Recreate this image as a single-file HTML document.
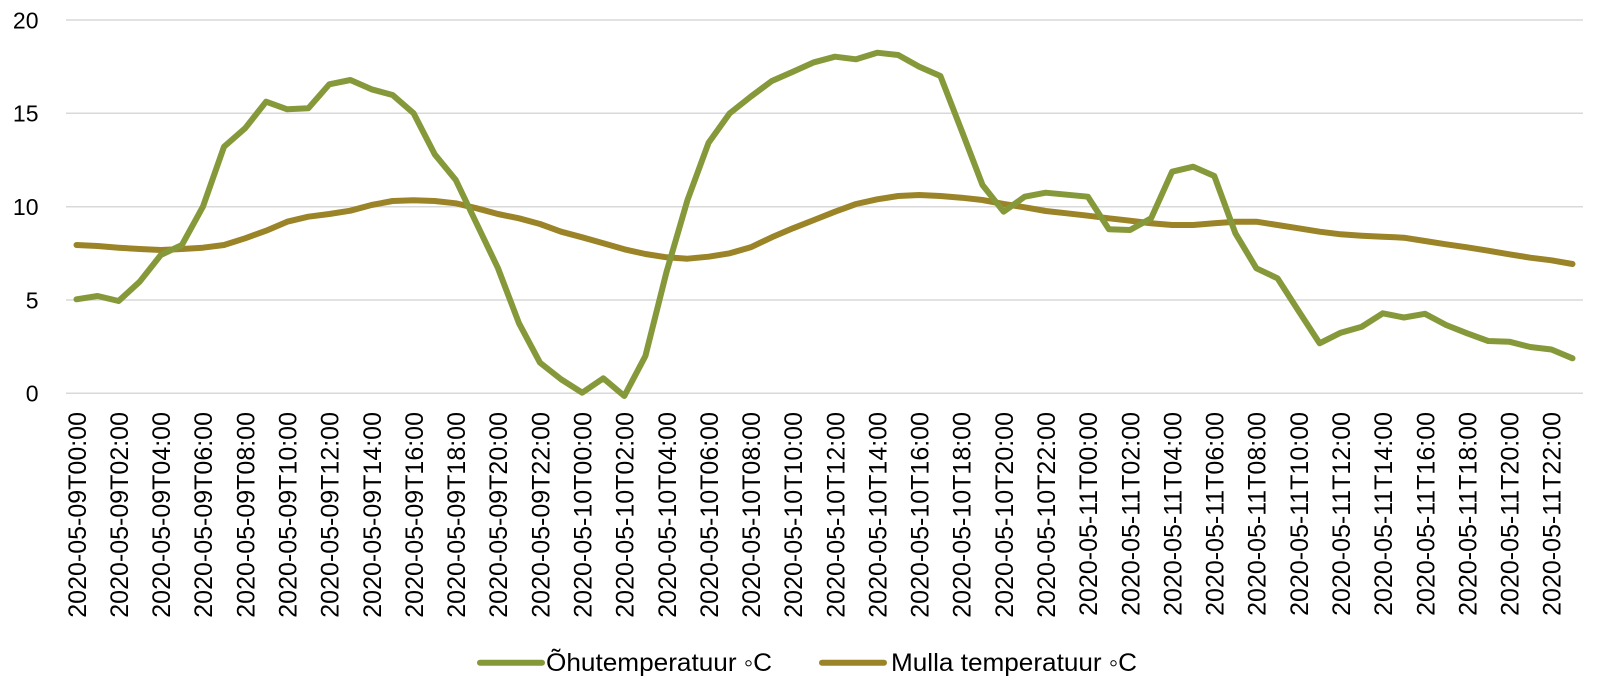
<!DOCTYPE html>
<html>
<head>
<meta charset="utf-8">
<style>
html,body{margin:0;padding:0;background:#fff;}
svg{display:block;}
text{font-family:"Liberation Sans",Arial,sans-serif;fill:#000;}
</style>
</head>
<body>
<svg width="1600" height="685" viewBox="0 0 1600 685" xmlns="http://www.w3.org/2000/svg">
<rect width="1600" height="685" fill="#fff"/>
<g stroke="#d9d9d9" stroke-width="1.5">
<line x1="66" y1="20" x2="1583" y2="20"/>
<line x1="66" y1="113.3" x2="1583" y2="113.3"/>
<line x1="66" y1="206.7" x2="1583" y2="206.7"/>
<line x1="66" y1="300" x2="1583" y2="300"/>
<line x1="66" y1="393.3" x2="1583" y2="393.3"/>
</g>
<g font-size="23" text-anchor="end">
<text x="38.5" y="28.3">20</text>
<text x="38.5" y="121.6">15</text>
<text x="38.5" y="215">10</text>
<text x="38.5" y="308.3">5</text>
<text x="38.5" y="401.6">0</text>
</g>
<polyline fill="none" stroke="#9b8428" stroke-width="6" stroke-linejoin="round" stroke-linecap="round" points="76.5,245 97.6,246 118.6,247.7 139.7,249 160.8,250 181.9,249 202.9,247.7 224,245 245.1,238.3 266.1,230.7 287.2,221.7 308.3,216.7 329.3,214 350.4,210.7 371.5,205 392.6,201 413.6,200.3 434.7,201 455.8,203.3 476.8,208.3 497.9,214 519,218.3 540,224 561.1,231.7 582.2,237.3 603.3,243.3 624.3,249.3 645.4,254 666.5,257.3 687.5,258.7 708.6,256.7 729.7,253.3 750.7,247.3 771.8,237.3 792.9,228.3 814,220 835,211.7 856.1,204 877.2,199.3 898.2,196 919.3,195 940.4,196 961.4,197.7 982.5,200 1003.6,204 1024.7,207.3 1045.7,211 1066.8,213.3 1087.9,215.7 1108.9,218.3 1130,220.7 1151.1,223.3 1172.1,225 1193.2,225 1214.3,223.3 1235.4,221.7 1256.4,221.7 1277.5,225 1298.6,228.3 1319.6,231.7 1340.7,234.3 1361.8,235.7 1382.8,236.7 1403.9,237.7 1425,241 1446.1,244.3 1467.1,247.3 1488.2,250.7 1509.3,254.3 1530.3,257.7 1551.4,260.3 1572.5,264"/>
<polyline fill="none" stroke="#86993a" stroke-width="6" stroke-linejoin="round" stroke-linecap="round" points="76.5,299.3 97.6,296 118.6,301 139.7,281.7 160.8,255 181.9,245 202.9,206.7 224,146.7 245.1,128.3 266.1,101.7 287.2,109.3 308.3,108.3 329.3,84.3 350.4,80 371.5,89.3 392.6,95 413.6,113.3 434.7,154.3 455.8,180 476.8,224 497.9,268 519,323.3 540,362.7 561.1,379.3 582.2,392.7 603.3,378.3 624.3,396 645.4,356 666.5,272 687.5,200 708.6,142.7 729.7,113.3 750.7,96.7 771.8,81 792.9,71.7 814,62.3 835,56.7 856.1,59.3 877.2,52.7 898.2,55 919.3,66.7 940.4,76 961.4,130 982.5,185 1003.6,211.7 1024.7,196.7 1045.7,192.7 1066.8,194.7 1087.9,196.7 1108.9,229.3 1130,230 1151.1,218.3 1172.1,171.7 1193.2,166.7 1214.3,176 1235.4,233.3 1256.4,268.3 1277.5,278.3 1298.6,311 1319.6,343.3 1340.7,332.7 1361.8,326.7 1382.8,313.3 1403.9,317.5 1425,313.8 1446.1,325 1467.1,333.3 1488.2,341 1509.3,341.7 1530.3,347 1551.4,349.5 1572.5,358.3"/>
<g font-size="25" text-anchor="end">
<text transform="translate(85.8,412) rotate(-90)">2020-05-09T00:00</text>
<text transform="translate(127.9,412) rotate(-90)">2020-05-09T02:00</text>
<text transform="translate(170.1,412) rotate(-90)">2020-05-09T04:00</text>
<text transform="translate(212.2,412) rotate(-90)">2020-05-09T06:00</text>
<text transform="translate(254.4,412) rotate(-90)">2020-05-09T08:00</text>
<text transform="translate(296.5,412) rotate(-90)">2020-05-09T10:00</text>
<text transform="translate(338.6,412) rotate(-90)">2020-05-09T12:00</text>
<text transform="translate(380.8,412) rotate(-90)">2020-05-09T14:00</text>
<text transform="translate(422.9,412) rotate(-90)">2020-05-09T16:00</text>
<text transform="translate(465.1,412) rotate(-90)">2020-05-09T18:00</text>
<text transform="translate(507.2,412) rotate(-90)">2020-05-09T20:00</text>
<text transform="translate(549.3,412) rotate(-90)">2020-05-09T22:00</text>
<text transform="translate(591.5,412) rotate(-90)">2020-05-10T00:00</text>
<text transform="translate(633.6,412) rotate(-90)">2020-05-10T02:00</text>
<text transform="translate(675.8,412) rotate(-90)">2020-05-10T04:00</text>
<text transform="translate(717.9,412) rotate(-90)">2020-05-10T06:00</text>
<text transform="translate(760,412) rotate(-90)">2020-05-10T08:00</text>
<text transform="translate(802.2,412) rotate(-90)">2020-05-10T10:00</text>
<text transform="translate(844.3,412) rotate(-90)">2020-05-10T12:00</text>
<text transform="translate(886.5,412) rotate(-90)">2020-05-10T14:00</text>
<text transform="translate(928.6,412) rotate(-90)">2020-05-10T16:00</text>
<text transform="translate(970.7,412) rotate(-90)">2020-05-10T18:00</text>
<text transform="translate(1012.9,412) rotate(-90)">2020-05-10T20:00</text>
<text transform="translate(1055,412) rotate(-90)">2020-05-10T22:00</text>
<text transform="translate(1097.2,412) rotate(-90)">2020-05-11T00:00</text>
<text transform="translate(1139.3,412) rotate(-90)">2020-05-11T02:00</text>
<text transform="translate(1181.4,412) rotate(-90)">2020-05-11T04:00</text>
<text transform="translate(1223.6,412) rotate(-90)">2020-05-11T06:00</text>
<text transform="translate(1265.7,412) rotate(-90)">2020-05-11T08:00</text>
<text transform="translate(1307.9,412) rotate(-90)">2020-05-11T10:00</text>
<text transform="translate(1350,412) rotate(-90)">2020-05-11T12:00</text>
<text transform="translate(1392.1,412) rotate(-90)">2020-05-11T14:00</text>
<text transform="translate(1434.3,412) rotate(-90)">2020-05-11T16:00</text>
<text transform="translate(1476.4,412) rotate(-90)">2020-05-11T18:00</text>
<text transform="translate(1518.6,412) rotate(-90)">2020-05-11T20:00</text>
<text transform="translate(1560.7,412) rotate(-90)">2020-05-11T22:00</text>
</g>
<line x1="480" y1="662.7" x2="542" y2="662.7" stroke="#86993a" stroke-width="6" stroke-linecap="round"/>
<text x="546" y="671" font-size="25" textLength="226" lengthAdjust="spacingAndGlyphs">Õhutemperatuur ◦C</text>
<line x1="822" y1="662.7" x2="884" y2="662.7" stroke="#9b8428" stroke-width="6" stroke-linecap="round"/>
<text x="891" y="671" font-size="25" textLength="246" lengthAdjust="spacingAndGlyphs">Mulla temperatuur ◦C</text>
</svg>
</body>
</html>
